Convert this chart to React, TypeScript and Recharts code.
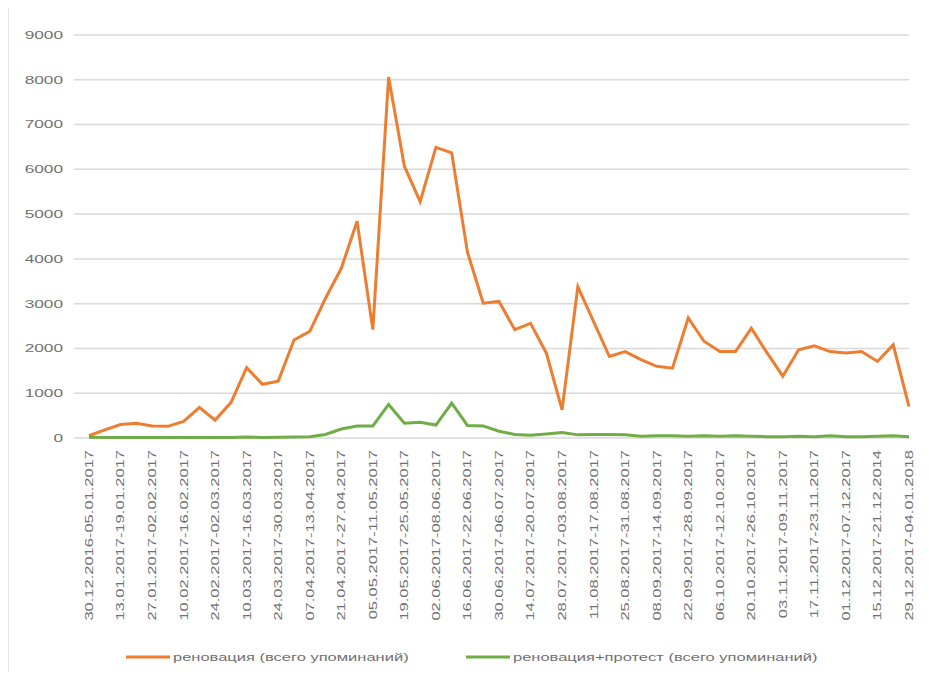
import { LineChart, Line, XAxis, YAxis, CartesianGrid, Legend } from "recharts";

const weeks = [
  "30.12.2016-05.01.2017", "06.01.2017-12.01.2017", "13.01.2017-19.01.2017", "20.01.2017-26.01.2017",
  "27.01.2017-02.02.2017", "03.02.2017-09.02.2017", "10.02.2017-16.02.2017", "17.02.2017-23.02.2017",
  "24.02.2017-02.03.2017", "03.03.2017-09.03.2017", "10.03.2017-16.03.2017", "17.03.2017-23.03.2017",
  "24.03.2017-30.03.2017", "31.03.2017-06.04.2017", "07.04.2017-13.04.2017", "14.04.2017-20.04.2017",
  "21.04.2017-27.04.2017", "28.04.2017-04.05.2017", "05.05.2017-11.05.2017", "12.05.2017-18.05.2017",
  "19.05.2017-25.05.2017", "26.05.2017-01.06.2017", "02.06.2017-08.06.2017", "09.06.2017-15.06.2017",
  "16.06.2017-22.06.2017", "23.06.2017-29.06.2017", "30.06.2017-06.07.2017", "07.07.2017-13.07.2017",
  "14.07.2017-20.07.2017", "21.07.2017-27.07.2017", "28.07.2017-03.08.2017", "04.08.2017-10.08.2017",
  "11.08.2017-17.08.2017", "18.08.2017-24.08.2017", "25.08.2017-31.08.2017", "01.09.2017-07.09.2017",
  "08.09.2017-14.09.2017", "15.09.2017-21.09.2017", "22.09.2017-28.09.2017", "29.09.2017-05.10.2017",
  "06.10.2017-12.10.2017", "13.10.2017-19.10.2017", "20.10.2017-26.10.2017", "27.10.2017-02.11.2017",
  "03.11.2017-09.11.2017", "10.11.2017-16.11.2017", "17.11.2017-23.11.2017", "24.11.2017-30.11.2017",
  "01.12.2017-07.12.2017", "08.12.2017-14.12.2017", "15.12.2017-21.12.2014", "22.12.2017-28.12.2017",
  "29.12.2017-04.01.2018",
];

// реновация (всего упоминаний)
const renovation = [
  50, 180, 300, 330, 270, 260, 370, 680, 400, 790, 1570, 1200, 1270, 2190, 2380, 3120, 3790, 4840,
  2420, 8060, 6070, 5280, 6490, 6370, 4150, 3010, 3050, 2420, 2560, 1900, 630, 3380, 2600, 1820,
  1930, 1750, 1600, 1560, 2680, 2160, 1930, 1930, 2450, 1900, 1380, 1970, 2060, 1930, 1900, 1930,
  1710, 2080, 700,
];

// реновация+протест (всего упоминаний)
const protest = [
  15, 10, 10, 10, 10, 10, 10, 10, 10, 10, 25, 10, 15, 20, 30, 80, 200, 270, 270, 750, 330, 350,
  290, 780, 280, 270, 150, 80, 60, 90, 120, 70, 80, 80, 70, 40, 50, 50, 40, 50, 40, 50, 40, 30,
  30, 40, 30, 50, 30, 30, 40, 50, 30,
];

const yTicks = [0, 1000, 2000, 3000, 4000, 5000, 6000, 7000, 8000, 9000];

const ORANGE = "#ED7D31";
const GREEN = "#70AD47";
const TEXT = "#707070";
const FONT = "'Liberation Sans', Arial, sans-serif";

const data = weeks.map((w, i) => ({ week: w, renovation: renovation[i], protest: protest[i] }));

// eslint-disable-next-line @typescript-eslint/no-explicit-any
function XTick({ x, y, payload }: any) {
  return (
    <text
      transform={`translate(${x},${y}) rotate(-90) scale(1.5,1)`}
      textAnchor="end"
      dominantBaseline="central"
      fontSize={11}
      fontFamily={FONT}
      fill={TEXT}
    >
      {payload.value}
    </text>
  );
}

// eslint-disable-next-line @typescript-eslint/no-explicit-any
function YTick({ x, y, payload }: any) {
  return (
    <text
      transform={`translate(${x},${y}) scale(1.5,1)`}
      textAnchor="end"
      dominantBaseline="central"
      fontSize={11.5}
      fontFamily={FONT}
      fill={TEXT}
    >
      {payload.value}
    </text>
  );
}

function LegendContent() {
  const items = [
    { name: "реновация (всего упоминаний)", color: ORANGE, x: 117 },
    { name: "реновация+протест (всего упоминаний)", color: GREEN, x: 457 },
  ];
  return (
    <svg width={913} height={30} style={{ display: "block" }}>
      {items.map((it) => (
        <g key={it.name}>
          <line x1={it.x} x2={it.x + 44} y1={15} y2={15} stroke={it.color} strokeWidth={3} />
          <text
            transform={`translate(${it.x + 47},15) scale(1.5,1)`}
            dominantBaseline="central"
            fontSize={11}
            fontFamily={FONT}
            fill={TEXT}
          >
            {it.name}
          </text>
        </g>
      ))}
    </svg>
  );
}

export default function App() {
  return (
    <div style={{ width: 913, height: 664, borderLeft: "1px solid #e4e4e4", boxSizing: "border-box" }}>
      <LineChart
        width={913}
        height={664}
        data={data}
        margin={{ top: 27, right: 13, left: 0, bottom: 0 }}
      >
        <CartesianGrid vertical={false} stroke="#d9d9d9" strokeWidth={1.5} />
        <XAxis
          dataKey="week"
          interval={1}
          tick={<XTick />}
          tickLine={false}
          axisLine={false}
          tickSize={0}
          tickMargin={12}
          height={204}
          padding={{ left: 15, right: 0 }}
        />
        <YAxis
          domain={[0, 9000]}
          ticks={yTicks}
          tick={<YTick />}
          tickLine={false}
          axisLine={false}
          tickSize={0}
          tickMargin={11}
          width={65}
        />
        <Legend verticalAlign="bottom" height={30} content={<LegendContent />} />
        <Line
          type="linear"
          dataKey="renovation"
          stroke={ORANGE}
          strokeWidth={3}
          dot={false}
          isAnimationActive={false}
        />
        <Line
          type="linear"
          dataKey="protest"
          stroke={GREEN}
          strokeWidth={3}
          dot={false}
          isAnimationActive={false}
        />
      </LineChart>
    </div>
  );
}
